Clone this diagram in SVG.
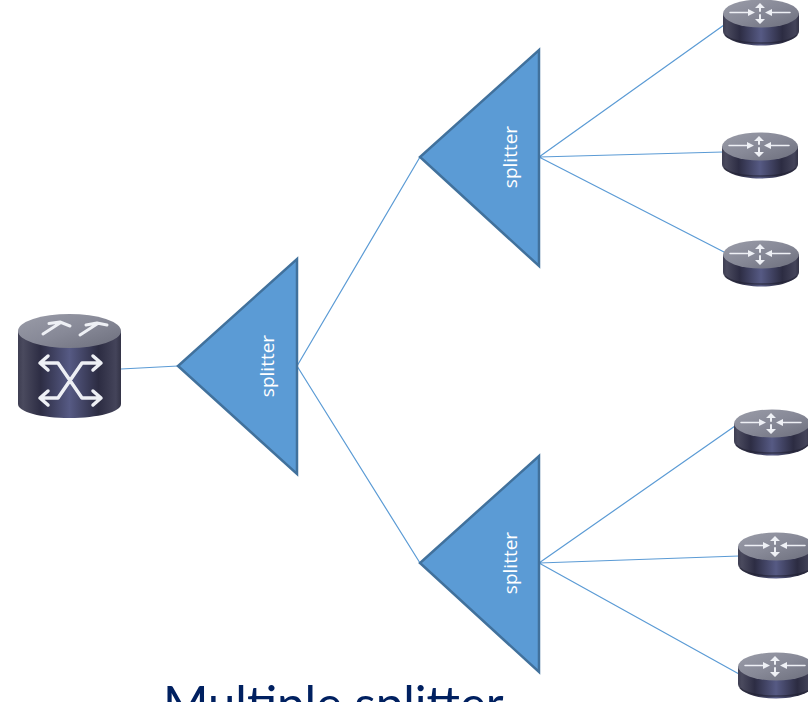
<svg xmlns="http://www.w3.org/2000/svg" width="808" height="702" viewBox="0 0 808 702">
<style>
.tri{fill:#5b9bd5;stroke:#41719c;stroke-width:2.500}
.lbl{font-family:"Open Sans","Noto Sans",sans-serif;font-size:19px;fill:#fff;text-anchor:middle}
.c{stroke:#5b9bd5;stroke-width:1.200;fill:none}
.w{stroke:#eef0f5;fill:none;stroke-linecap:round;stroke-linejoin:round}
.h{fill:#eef0f5}
.title{font-family:Lato,"Liberation Sans",sans-serif;font-size:49px;fill:#002060}
</style>
<defs>
<filter id="soft" filterUnits="userSpaceOnUse" x="0" y="0" width="808" height="702"><feGaussianBlur stdDeviation="0.400"/></filter>
<linearGradient id="body" x1="0" x2="1" y1="0" y2="0">
<stop offset="0" stop-color="#3e3e52"/><stop offset=".05" stop-color="#4a4a5e"/><stop offset=".22" stop-color="#2d2d44"/><stop offset=".5" stop-color="#565a84"/><stop offset=".78" stop-color="#2c2c42"/><stop offset=".95" stop-color="#44445a"/><stop offset="1" stop-color="#333346"/>
</linearGradient>
<linearGradient id="top" x1="0" x2="1" y1="0" y2="1">
<stop offset="0" stop-color="#9a9ca8"/><stop offset=".5" stop-color="#878997"/><stop offset="1" stop-color="#6c6e7c"/>
</linearGradient>
<g id="router">
<path d="M0 13V31C0 39 17 45.500 38 45.500S76 39 76 31V13Z" fill="url(#body)"/>
<path d="M2 35C8 41 22 43 38 43S68 41 74 35" fill="none" stroke="#1f1f30" stroke-width="1.500" opacity=".6"/>
<ellipse cx="38" cy="13.500" rx="38" ry="14" fill="url(#top)"/>
<g filter="url(#soft)">
<path class="w" stroke-width="1.500" d="M7 12.500H28M67 12.500H46"/>
<path class="h" d="M32 12.500L25 9V16ZM42 12.500L49 9V16ZM37 3L32 8H42ZM37 24L32 19H42Z"/>
<path class="w" stroke-width="2" d="M37 7V11M37 15V20"/>
</g>
</g>
</defs>
<g id="connectors">
<path class="c" d="M121 369L178 366M297 366L420 157M297 366L420 563"/>
<path class="c" d="M539 157L724 25M539 157L723 152M539 157L724 252"/>
<path class="c" d="M539 563L735 426M539 563L739 556M539 563L739 674"/>
</g>
<g id="switch">
<path d="M18 331V404C18 412 41 418 69.500 418S121 412 121 404V331Z" fill="url(#body)"/>
<ellipse cx="69.500" cy="331" rx="51.500" ry="17" fill="url(#top)"/>
<g filter="url(#soft)">
<path class="w" stroke-width="3" d="M43 334L60 323M49 323.500L60 322L70 326M80 335L97 324M86 325L97 323L107 325"/>
<path class="w" stroke-width="3.500" d="M41 363H58L82 398H100M41 398H58L82 363H100M48 356L40 363L48 370M93 356L101 363L93 370M48 391L40 398L48 405M93 391L101 398L93 405"/>
</g>
</g>
<g id="splitter-1"><path class="tri" d="M297 259V474L178 366Z"/><text class="lbl" transform="translate(274 366) rotate(-90)">splitter</text></g>
<g id="splitter-2"><path class="tri" d="M539 50V266L420 157Z"/><text class="lbl" transform="translate(517 157) rotate(-90)">splitter</text></g>
<g id="splitter-3"><path class="tri" d="M539 456V672L420 563Z"/><text class="lbl" transform="translate(517 563) rotate(-90)">splitter</text></g>
<g id="router-1"><use href="#router" x="723" y="0"/></g>
<g id="router-2"><use href="#router" x="722" y="133"/></g>
<g id="router-3"><use href="#router" x="723" y="241"/></g>
<g id="router-4"><use href="#router" x="734" y="410"/></g>
<g id="router-5"><use href="#router" x="738" y="533"/></g>
<g id="router-6"><use href="#router" x="738" y="653"/></g>
<text class="title" x="163" y="721">Multiple splitter</text>
</svg>
